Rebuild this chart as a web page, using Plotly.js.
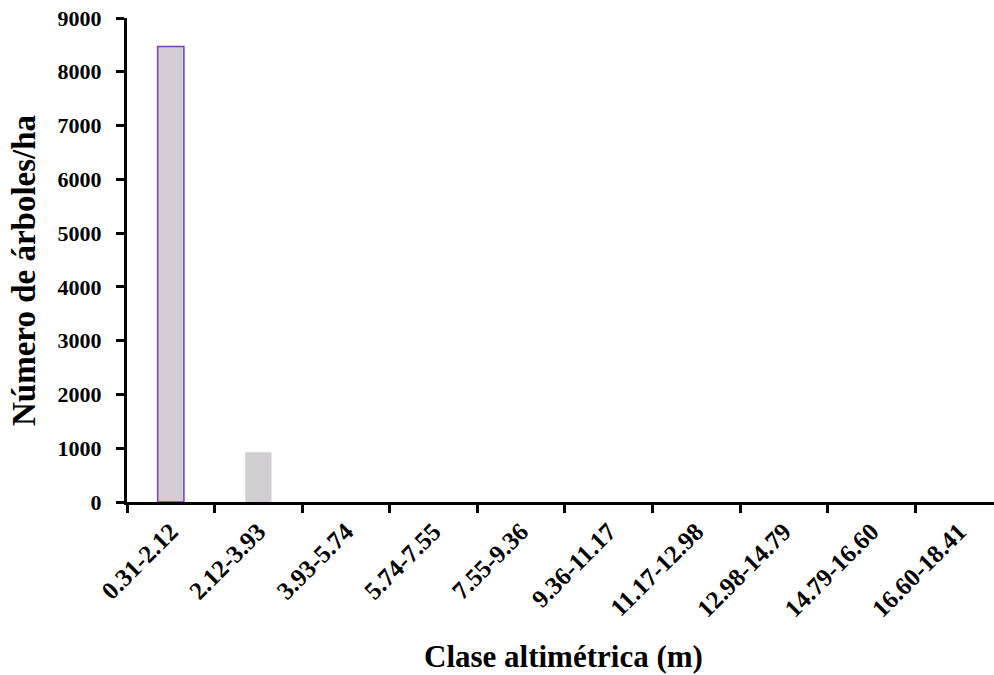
<!DOCTYPE html>
<html>
<head>
<meta charset="utf-8">
<script src="https://cdn.plot.ly/plotly-3.0.1.min.js"></script>
<style>html,body{margin:0;padding:0;background:#fff;}#chart{width:994px;height:675px;}</style>
</head>
<body>
<div id="chart"></div>
<script>
const categories = ["0.31-2.12","2.12-3.93","3.93-5.74","5.74-7.55","7.55-9.36","9.36-11.17","11.17-12.98","12.98-14.79","14.79-16.60","16.60-18.41"];
const treesPerHa = [8470, 925, 0, 0, 0, 0, 0, 0, 0, 0];
const yTicks = [0,1000,2000,3000,4000,5000,6000,7000,8000,9000];
const xTitle = 'Clase altimétrica (m)';
const yTitle = 'Número de árboles/ha';

const outline = treesPerHa.map((v,i)=> i===0 ? '#7A3DB8' : 'rgba(0,0,0,0)');
const font = "'Times New Roman', 'Liberation Serif', serif";

Plotly.newPlot('chart', [{
  type: 'bar',
  x: categories,
  y: treesPerHa,
  width: 0.3,
  marker: {color: '#D0CED0', line: {color: outline, width: 1.5}},
  hoverinfo: 'skip'
}], {
  width: 994, height: 675,
  margin: {l: 127, r: 0, t: 18, b: 173},
  paper_bgcolor: '#fff', plot_bgcolor: '#fff',
  showlegend: false,
  font: {family: font, color: '#000'},
  xaxis: {
    type: 'category',
    range: [-0.5, 9.4],
    tickson: 'boundaries',
    ticks: 'outside', ticklen: 8, tickwidth: 3, tickcolor: '#000',
    showline: true, linewidth: 3, linecolor: '#000',
    showgrid: false, zeroline: false,
    tickangle: -45,
    ticklabelstandoff: 2,
    tickfont: {family: font, size: 25, color: '#000', weight: 'bold'}
  },
  yaxis: {
    range: [0, 9000],
    tickvals: yTicks,
    ticktext: yTicks.map(String),
    ticks: 'outside', ticklen: 8, tickwidth: 3, tickcolor: '#000',
    showline: true, linewidth: 3, linecolor: '#000',
    showgrid: false, zeroline: false,
    ticklabelstandoff: 10,
    tickfont: {family: font, size: 22, color: '#000', weight: 'bold'}
  },
  annotations: [
    {text: '<b>' + xTitle + '</b>', xref: 'paper', yref: 'paper', x: 0.503, y: -0.32,
     xanchor: 'center', yanchor: 'middle', showarrow: false,
     font: {family: font, size: 31, color: '#000'}},
    {text: '<b>' + yTitle + '</b>', xref: 'paper', yref: 'paper', x: -0.119, y: 0.479,
     xanchor: 'center', yanchor: 'middle', showarrow: false, textangle: -90,
     font: {family: font, size: 33, color: '#000'}}
  ]
}, {displayModeBar: false, staticPlot: true});
</script>
</body>
</html>
